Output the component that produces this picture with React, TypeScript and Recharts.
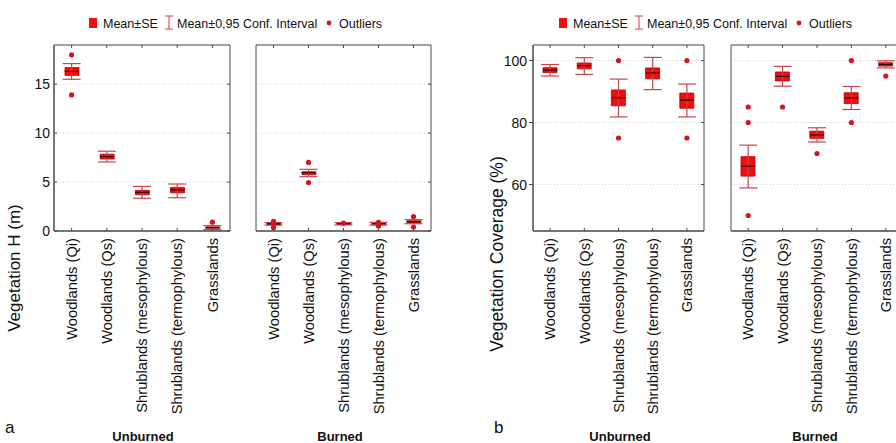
import React from 'react';
import { ComposedChart, Bar, Scatter, ErrorBar, XAxis, YAxis, CartesianGrid, ReferenceArea } from 'recharts';

const FONT = '"Liberation Sans", Arial, sans-serif';
const FRAME = '#4a4a4a';
const BOX = '#f40d0d';
const BOX_EDGE = '#b80000';
const WHISKER = '#c4464c';
const DOT = '#d4161c';

const categories = [
  'Woodlands (Qi)',
  'Woodlands (Qs)',
  'Shrublands (mesophylous)',
  'Shrublands (termophylous)',
  'Grasslands',
];

// a: vegetation height (m), unburned
const hUnMean = [16.3, 7.6, 3.95, 4.2, 0.35];
const hUnSeLo = [15.9, 7.35, 3.7, 3.9, 0.28];
const hUnSeHi = [16.7, 7.85, 4.15, 4.45, 0.42];
const hUnCiLo = [15.5, 7.05, 3.35, 3.4, 0.15];
const hUnCiHi = [17.1, 8.15, 4.55, 4.8, 0.55];
const hUnOut = [[18, 13.9], [], [], [], [0.9]];

// a: vegetation height (m), burned
const hBuMean = [0.72, 5.95, 0.74, 0.74, 0.94];
const hBuSeLo = [0.66, 5.75, 0.68, 0.68, 0.84];
const hBuSeHi = [0.78, 6.05, 0.8, 0.8, 1.04];
const hBuCiLo = [0.6, 5.55, 0.62, 0.6, 0.74];
const hBuCiHi = [0.86, 6.3, 0.86, 0.88, 1.16];
const hBuOut = [[0.99, 0.37, 0.85], [7.0, 4.95], [0.8], [0.88, 0.51], [1.47, 0.41]];

// b: vegetation coverage (%), unburned
const cUnMean = [96.9, 98.3, 88.0, 96.0, 87.2];
const cUnSeLo = [96.1, 97.3, 85.4, 94.1, 84.6];
const cUnSeHi = [97.7, 99.2, 90.5, 97.6, 89.5];
const cUnCiLo = [95.0, 95.5, 81.8, 90.6, 81.8];
const cUnCiHi = [98.7, 100.9, 94.0, 101.0, 92.4];
const cUnOut = [[], [], [100, 75], [], [100, 75]];

// b: vegetation coverage (%), burned
const cBuMean = [65.9, 94.9, 76.0, 87.9, 98.7];
const cBuSeLo = [62.7, 93.4, 74.9, 86.1, 98.2];
const cBuSeHi = [69.0, 96.3, 77.2, 89.6, 99.3];
const cBuCiLo = [58.9, 91.7, 73.7, 84.2, 97.6];
const cBuCiHi = [72.7, 98.1, 78.3, 91.6, 99.9];
const cBuOut = [[85, 80, 50], [85], [70], [100, 80], [95]];

const hDomain: [number, number] = [0, 19];
const hTicks = [0, 5, 10, 15];
const cDomain: [number, number] = [45, 105];
const cTicks = [60, 80, 100];

const makeRows = (mean: number[], seLo: number[], seHi: number[], ciLo: number[], ciHi: number[], out: number[][]) =>
  categories.map((name, i) => ({
    name,
    mean: mean[i],
    se: [seLo[i], seHi[i]],
    err: [mean[i] - ciLo[i], ciHi[i] - mean[i]],
    o1: out[i][0] ?? null,
    o2: out[i][1] ?? null,
    o3: out[i][2] ?? null,
  }));

const CatTick = (p: any) => {
  const { x, y, payload } = p;
  return (
    <g>
      <line x1={x} x2={x} y1={y - 7} y2={y - 10} stroke={FRAME} />
      <text
        x={x}
        y={y}
        transform={`rotate(-90 ${x} ${y})`}
        textAnchor="end"
        dy="0.36em"
        fontSize={14.7}
        fontFamily={FONT}
        fill="#111"
      >
        {payload.value}
      </text>
    </g>
  );
};

const TopTick = (p: any) => <line x1={p.x} x2={p.x} y1={p.y} y2={p.y + 3} stroke={FRAME} />;
const RightTick = (p: any) => <line x1={p.x} x2={p.x - 3} y1={p.y} y2={p.y} stroke={FRAME} />;

const MeanLine = (p: any) =>
  Number.isFinite(p.cy) ? <line x1={p.cx - 7} x2={p.cx + 7} y1={p.cy} y2={p.cy} stroke="#3a0000" strokeWidth={1.2} /> : <g />;
const OutDot = (p: any) =>
  Number.isFinite(p.cy) ? <circle cx={p.cx} cy={p.cy} r={2.6} fill={DOT} /> : <g />;

type PanelProps = {
  rows: any[];
  domain: [number, number];
  ticks: number[];
  left: number;
  width: number;
  labels: boolean;
  outTicks: boolean;
  gap: number;
};

const Panel = ({ rows, domain, ticks, left, width, labels, outTicks, gap }: PanelProps) => {
  const LeftTick = (p: any) => {
    const ax = p.x + gap;
    return (
      <g>
        <line x1={ax} x2={outTicks ? ax - 4 : ax + 3} y1={p.y} y2={p.y} stroke={FRAME} />
        {labels && (
          <text x={p.x} y={p.y} textAnchor="end" dy="0.36em" fontSize={14} fontFamily={FONT} fill="#111">
            {p.payload.value}
          </text>
        )}
      </g>
    );
  };
  return (
    <div style={{ position: 'absolute', left, top: 0 }}>
      <ComposedChart
        width={width}
        height={443}
        data={rows}
        margin={{ top: 44, right: 9, bottom: 0, left: labels ? 0 : 10 }}
        barSize={14}
      >
        <CartesianGrid vertical={false} stroke="#cfcfcf" strokeDasharray="1 2" />
        <XAxis
          dataKey="name"
          interval={0}
          height={212}
          tickSize={0}
          tickMargin={7}
          tickLine={false}
          axisLine={{ stroke: FRAME }}
          tick={CatTick}
        />
        <XAxis
          xAxisId="top"
          orientation="top"
          dataKey="name"
          interval={0}
          height={1}
          tickSize={0}
          tickMargin={0}
          tickLine={false}
          axisLine={false}
          tick={TopTick}
        />
        <YAxis
          type="number"
          domain={domain}
          ticks={ticks}
          allowDataOverflow
          width={labels ? (outTicks ? 60 : 54) : 0}
          tickSize={0}
          tickMargin={gap}
          tickLine={false}
          axisLine={{ stroke: FRAME }}
          tick={LeftTick}
        />
        <YAxis
          yAxisId="r"
          orientation="right"
          type="number"
          domain={domain}
          ticks={ticks}
          allowDataOverflow
          width={1}
          tickSize={0}
          tickMargin={0}
          tickLine={false}
          axisLine={false}
          tick={RightTick}
        />
        <ReferenceArea y1={domain[0]} y2={domain[1]} fill="none" stroke={FRAME} strokeWidth={1} ifOverflow="visible" />
        <Scatter dataKey="mean" isAnimationActive={false} shape={() => <g />}>
          <ErrorBar dataKey="err" direction="y" width={9} stroke={WHISKER} strokeWidth={1.2} isAnimationActive={false} />
        </Scatter>
        <Bar dataKey="se" fill={BOX} stroke={BOX_EDGE} strokeWidth={0.8} isAnimationActive={false} />
        <Scatter dataKey="mean" isAnimationActive={false} shape={MeanLine} />
        {['o1', 'o2', 'o3'].map((k) => (
          <Scatter key={k} dataKey={k} isAnimationActive={false} shape={OutDot} />
        ))}
      </ComposedChart>
    </div>
  );
};

const LegendRow = ({ x0 }: { x0: number }) => (
  <g fontFamily={FONT} fontSize={12.5} fill="#111">
    <rect x={x0} y={18} width={8} height={10} fill={BOX} />
    <text x={x0 + 14} y={27.5}>Mean±SE</text>
    <line x1={x0 + 80} x2={x0 + 80} y1={16} y2={29} stroke={WHISKER} />
    <line x1={x0 + 76} x2={x0 + 84} y1={16} y2={16} stroke={WHISKER} />
    <line x1={x0 + 76} x2={x0 + 84} y1={29} y2={29} stroke={WHISKER} />
    <text x={x0 + 88} y={27.5}>Mean±0,95 Conf. Interval</text>
    <circle cx={x0 + 240} cy={23} r={2.4} fill={DOT} />
    <text x={x0 + 250} y={27.5}>Outliers</text>
  </g>
);

export default function App() {
  const hUn = makeRows(hUnMean, hUnSeLo, hUnSeHi, hUnCiLo, hUnCiHi, hUnOut);
  const hBu = makeRows(hBuMean, hBuSeLo, hBuSeHi, hBuCiLo, hBuCiHi, hBuOut);
  const cUn = makeRows(cUnMean, cUnSeLo, cUnSeHi, cUnCiLo, cUnCiHi, cUnOut);
  const cBu = makeRows(cBuMean, cBuSeLo, cBuSeHi, cBuCiLo, cBuCiHi, cBuOut);

  return (
    <div style={{ position: 'fixed', left: 0, top: 0, width: 896, height: 443, overflow: 'hidden', background: '#fff' }}>
      <Panel rows={hUn} domain={hDomain} ticks={hTicks} left={0} width={240} labels outTicks={false} gap={4} />
      <Panel rows={hBu} domain={hDomain} ticks={hTicks} left={246} width={195} labels={false} outTicks={false} gap={0} />
      <Panel rows={cUn} domain={cDomain} ticks={cTicks} left={473} width={241} labels outTicks gap={6} />
      <Panel rows={cBu} domain={cDomain} ticks={cTicks} left={721} width={192} labels={false} outTicks gap={0} />
      <svg width={896} height={443} style={{ position: 'absolute', left: 0, top: 0, pointerEvents: 'none' }}>
        <LegendRow x0={89} />
        <LegendRow x0={559} />
        <g fontFamily={FONT} fill="#111">
          <text x={14} y={268} transform="rotate(-90 14 268)" textAnchor="middle" dy="0.36em" fontSize={17}>
            Vegetation H (m)
          </text>
          <text x={497} y={254} transform="rotate(-90 497 254)" textAnchor="middle" dy="0.36em" fontSize={17.5}>
            Vegetation Coverage (%)
          </text>
          <text x={5} y={433} fontSize={17}>a</text>
          <text x={494} y={433} fontSize={17}>b</text>
          <g fontSize={13} fontWeight="bold" textAnchor="middle">
            <text x={143} y={441}>Unburned</text>
            <text x={340} y={441}>Burned</text>
            <text x={620} y={441}>Unburned</text>
            <text x={815} y={441}>Burned</text>
          </g>
        </g>
      </svg>
    </div>
  );
}
